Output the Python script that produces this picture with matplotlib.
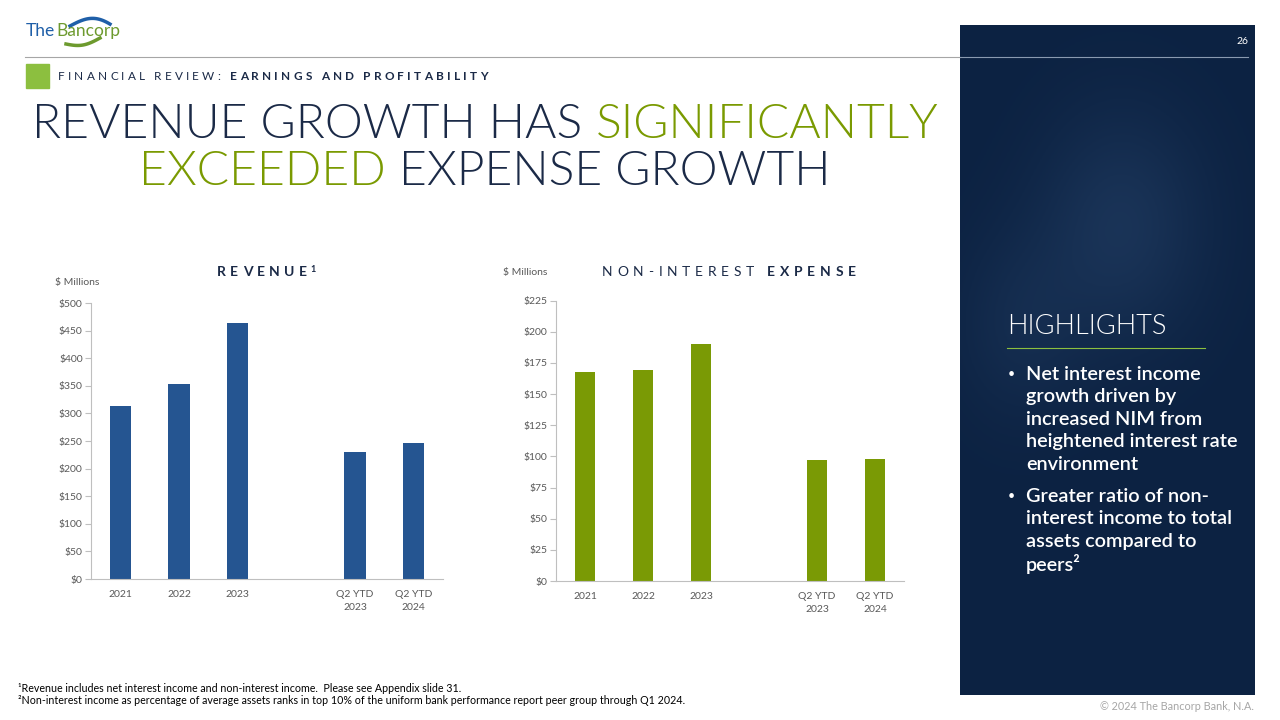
import numpy as np
import matplotlib
matplotlib.use("Agg")
import matplotlib.pyplot as plt
from matplotlib.patches import Rectangle
from matplotlib.ticker import FuncFormatter

plt.rcParams['font.family'] = ['Lato', 'DejaVu Sans']

# ---------------- data ----------------
categories = ["2021", "2022", "2023", "", "Q2 YTD\n2023", "Q2 YTD\n2024"]
revenue = [314, 354, 464, np.nan, 230, 247]
expense = [168, 169, 190, np.nan, 97, 98]
rev_ticks = [0, 50, 100, 150, 200, 250, 300, 350, 400, 450, 500]
exp_ticks = [0, 25, 50, 75, 100, 125, 150, 175, 200, 225]

NAVY = "#1b2a47"
GREEN = "#7a9a01"
BLUE_BAR = "#255591"
GREEN_BAR = "#7a9a05"
GRAY = "#595959"
W, H = 1280, 720

fig = plt.figure(figsize=(12.8, 7.2), dpi=100)
fig.patch.set_facecolor("white")

def fx(px):
    return px / W

def fy(py):
    return 1 - py / H

# ---------------- right dark panel ----------------
pax = fig.add_axes([fx(960), fy(695), fx(1255) - fx(960), fy(25) - fy(695)])
gy, gx = np.mgrid[0:1:200j, 0:1:100j]
base = np.array([12, 34, 66]) / 255.0
light = np.array([42, 72, 112]) / 255.0
glow = np.exp(-((gx - 0.55) ** 2 / 0.08 + (gy - 0.3) ** 2 / 0.03)) * 0.45
glow += np.exp(-((gx - 0.2) ** 2 / 0.05 + (gy - 0.45) ** 2 / 0.02)) * 0.25
img = base[None, None, :] * (1 - glow[..., None]) + light[None, None, :] * glow[..., None]
pax.imshow(img, aspect="auto", extent=[0, 1, 1, 0])
pax.set_axis_off()

# header line
fig.add_artist(plt.Line2D([fx(25), fx(960)], [fy(57), fy(57)], color="#a6a6a6", lw=0.8))
fig.add_artist(plt.Line2D([fx(960), fx(1248)], [fy(57), fy(57)], color="#8a9ab0", lw=0.8))
fig.text(fx(1248), fy(42), "26", color="white", fontsize=7.5, ha="right", va="center")

# ---------------- logo ----------------
fig.text(fx(26), fy(31), "The", color="#1f5fa8", fontsize=12.5, ha="left", va="center")
fig.text(fx(56), fy(31), "Bancorp", color="#6d9a2e", fontsize=12.5, ha="left", va="center")
t = np.linspace(0, 1, 50)
fig.add_artist(plt.Line2D(fx(70 + 40 * t), fy(26 - 10 * np.sin(np.pi * t * 0.8) + 4 * t), color="#1f5fa8", lw=2.5))
fig.add_artist(plt.Line2D(fx(66 + 34 * t), fy(44 + 4 * np.sin(np.pi * t) - 6 * t), color="#6d9a2e", lw=2.5))

# ---------------- spaced text helper ----------------
renderer = fig.canvas.get_renderer()

def spaced(x, y, parts, spacing, fontsize, ha="left"):
    arts = []
    widths = []
    for txt, weight, color in parts:
        for ch in txt:
            a = fig.text(0, fy(y), ch, fontsize=fontsize, fontweight=weight, color=color,
                         ha="left", va="center")
            bb = a.get_window_extent(renderer)
            w = bb.width if ch != " " else fontsize * 0.35
            arts.append(a)
            widths.append(w)
    total = sum(widths) + spacing * (len(widths) - 1)
    cur = x - total / 2 if ha == "center" else x
    for a, w in zip(arts, widths):
        a.set_x(fx(cur))
        cur += w + spacing
    return cur

fig.add_artist(Rectangle((fx(26), fy(88)), fx(23), fy(64) - fy(88), color="#8cbf3f", transform=fig.transFigure))
spaced(58, 76, [("FINANCIAL REVIEW: ", "normal", NAVY), ("EARNINGS AND PROFITABILITY", "bold", NAVY)],
       3.2, 8.5)

# ---------------- title ----------------
fs_title = 34.6
TW = 300
t1a = fig.text(0, fy(125), "REVENUE GROWTH HAS ", fontsize=fs_title, fontweight=TW, color=NAVY, va="center")
t1b = fig.text(0, fy(125), "SIGNIFICANTLY", fontsize=fs_title, fontweight=TW, color=GREEN, va="center")
w1a = t1a.get_window_extent(renderer).width
w1b = t1b.get_window_extent(renderer).width
x0 = 485 - (w1a + w1b) / 2
t1a.set_x(fx(x0)); t1b.set_x(fx(x0 + w1a))
t2a = fig.text(0, fy(172), "EXCEEDED ", fontsize=fs_title, fontweight=TW, color=GREEN, va="center")
t2b = fig.text(0, fy(172), "EXPENSE GROWTH", fontsize=fs_title, fontweight=TW, color=NAVY, va="center")
w2a = t2a.get_window_extent(renderer).width
w2b = t2b.get_window_extent(renderer).width
x0 = 485 - (w2a + w2b) / 2
t2a.set_x(fx(x0)); t2b.set_x(fx(x0 + w2a))

# ---------------- charts ----------------
def style_axes(ax, ticks, color, values):
    x = np.arange(len(categories))
    ax.bar(x, values, width=0.36, color=color)
    ax.set_xlim(-0.5, len(categories) - 0.5)
    ax.set_ylim(ticks[0], ticks[-1])
    ax.set_yticks(ticks)
    ax.yaxis.set_major_formatter(FuncFormatter(lambda v, p: f"${v:.0f}"))
    ax.set_xticks(x)
    ax.set_xticklabels(categories)
    for s in ["top", "right"]:
        ax.spines[s].set_visible(False)
    for s in ["left", "bottom"]:
        ax.spines[s].set_color("#bfbfbf")
        ax.spines[s].set_linewidth(0.8)
    ax.tick_params(axis="y", length=4, color="#bfbfbf", labelsize=7.5, labelcolor=GRAY, pad=2)
    ax.tick_params(axis="x", length=0, labelsize=7.5, labelcolor=GRAY, pad=8)
    for lbl in ax.get_xticklabels():
        lbl.set_linespacing(1.6)

ax1 = fig.add_axes([fx(91), fy(579), fx(443) - fx(91), fy(303) - fy(579)])
style_axes(ax1, rev_ticks, BLUE_BAR, revenue)
ax2 = fig.add_axes([fx(556), fy(581), fx(904) - fx(556), fy(300.7) - fy(581)])
style_axes(ax2, exp_ticks, GREEN_BAR, expense)

fig.text(fx(55), fy(283), "$ Millions", fontsize=7.5, color=GRAY, va="center")
fig.text(fx(503), fy(273), "$ Millions", fontsize=7.5, color=GRAY, va="center")

end = spaced(262, 272, [("REVENUE", "bold", NAVY)], 4.4, 10, ha="center")
fig.text(fx(end - 1), fy(269), "1", fontsize=6.5, fontweight="bold", color=NAVY, va="center")
spaced(729, 272, [("NON-INTEREST ", "normal", NAVY), ("EXPENSE", "bold", NAVY)], 4.75, 10, ha="center")

# ---------------- highlights ----------------
fig.text(fx(1007), fy(327), "HIGHLIGHTS", fontsize=19.5, fontweight=TW, color="white", va="center")
fig.add_artist(plt.Line2D([fx(1007), fx(1205)], [fy(348), fy(348)], color="#8cbf3f", lw=0.8))
bullets = [
    ["Net interest income", "growth driven by", "increased NIM from", "heightened interest rate", "environment"],
    ["Greater ratio of non-", "interest income to total", "assets compared to", "peers\u00b2"],
]
yy = 374
for b in bullets:
    fig.text(fx(1011), fy(yy), "\u2022", fontsize=9, color="white", va="center", ha="center")
    for line in b:
        fig.text(fx(1026), fy(yy), line, fontsize=14.3, fontweight="semibold", color="white", va="center")
        yy += 22.5
    yy += 9.5

# ---------------- footnotes ----------------
fig.text(fx(18), fy(688), "\u00b9Revenue includes net interest income and non-interest income.  Please see Appendix slide 31.",
         fontsize=7.65, color="black", va="center")
fig.text(fx(18), fy(700), "\u00b2Non-interest income as percentage of average assets ranks in top 10% of the uniform bank performance report peer group through Q1 2024.",
         fontsize=7.65, color="black", va="center")
fig.text(fx(1254), fy(706), "\u00a9 2024 The Bancorp Bank, N.A.", fontsize=7.8, color="#a6a6a6", va="center", ha="right")

fig.savefig("out.png", dpi=100)
